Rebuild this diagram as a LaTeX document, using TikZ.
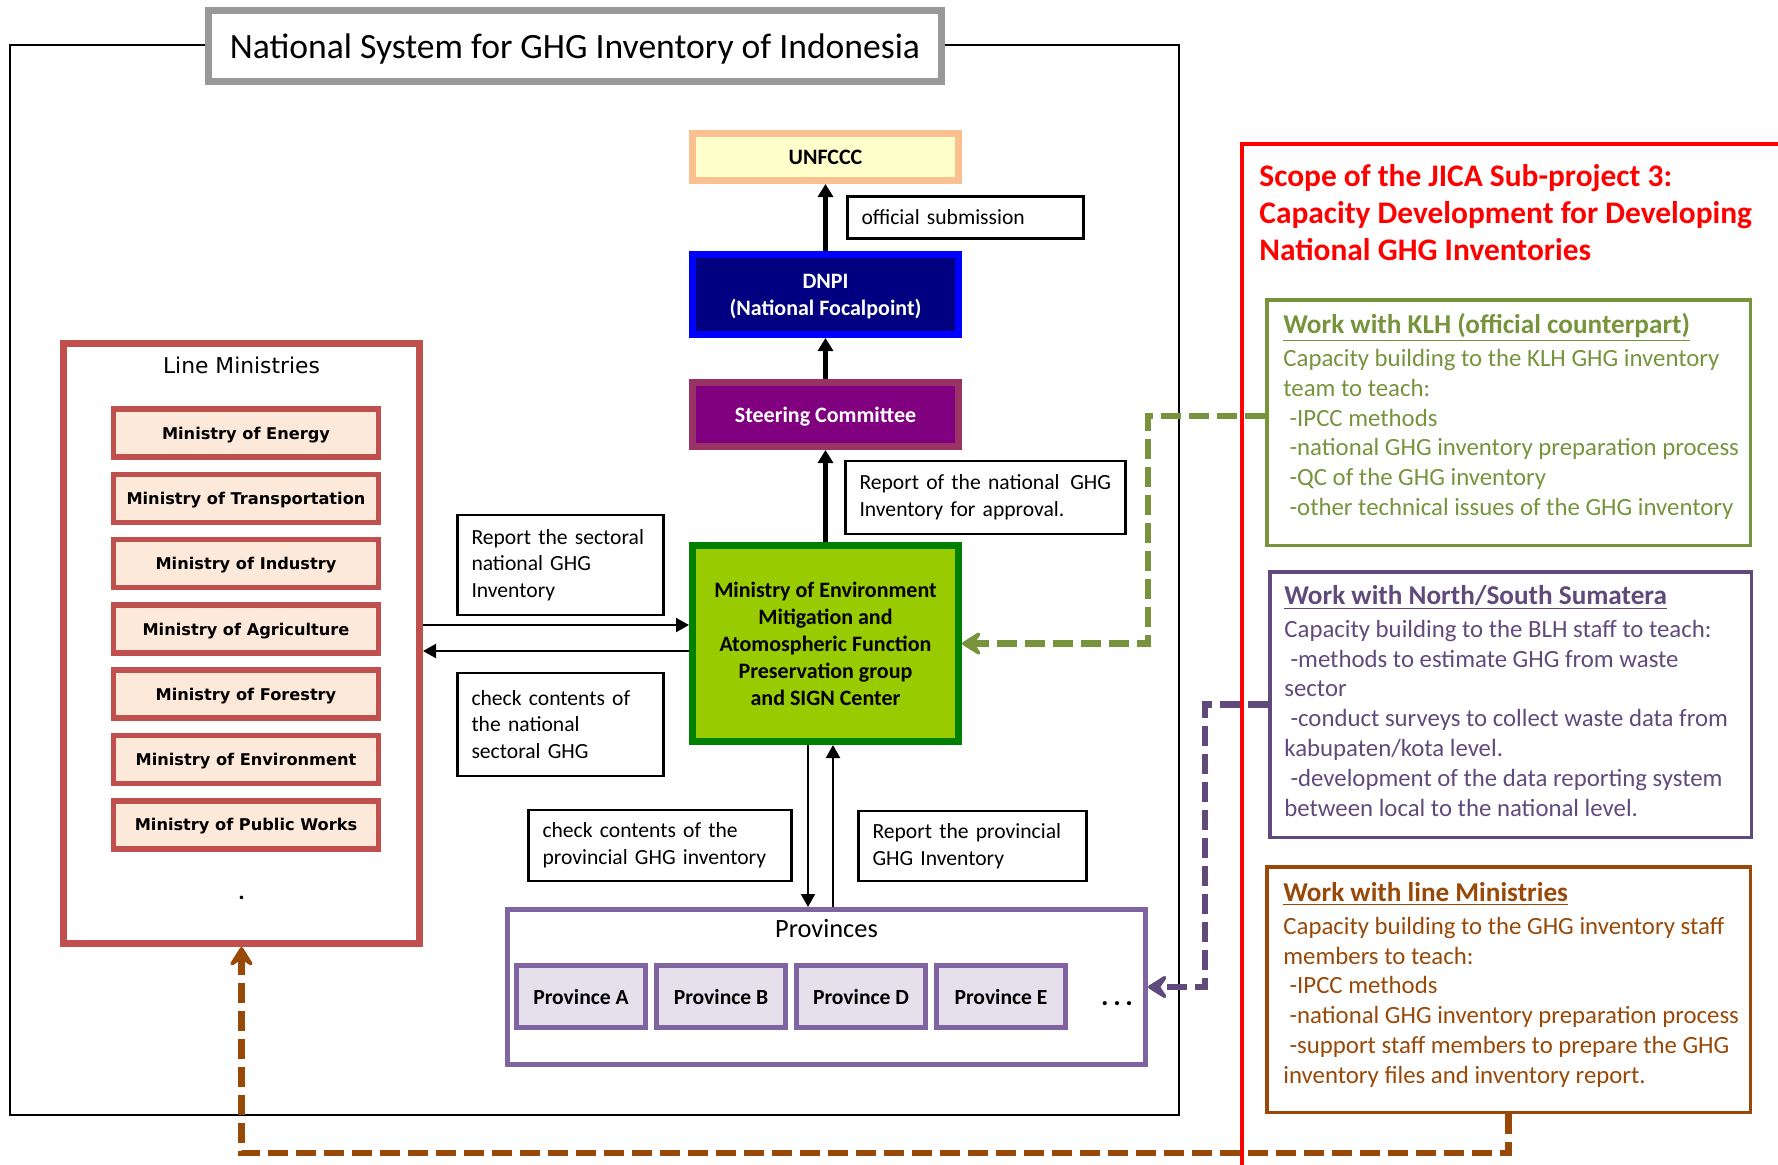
\documentclass[tikz,border=0pt]{standalone}
\usepackage{fontspec}
\setmainfont{Carlito}
\newfontfamily\verdfont{DejaVu Sans}
\usetikzlibrary{arrows.meta, positioning, calc}

\definecolor{titlegray}{HTML}{999999}
\definecolor{unfcccfill}{HTML}{FFFFCC}
\definecolor{unfcccline}{HTML}{FAC090}
\definecolor{dnpifill}{HTML}{000080}
\definecolor{dnpiline}{HTML}{0000FF}
\definecolor{steerfill}{HTML}{800080}
\definecolor{steerline}{HTML}{993366}
\definecolor{moefill}{HTML}{99CC00}
\definecolor{moeline}{HTML}{008000}
\definecolor{minfill}{HTML}{FDE9D9}
\definecolor{minline}{HTML}{C0504D}
\definecolor{provfill}{HTML}{E5E0EC}
\definecolor{provline}{HTML}{8064A2}
\definecolor{klhcol}{HTML}{77933C}
\definecolor{sumcol}{HTML}{604A7B}
\definecolor{brncol}{HTML}{984807}
\definecolor{scopered}{HTML}{FF0000}

\newcommand\headfont{\bfseries\fontsize{13.6}{14.9}\selectfont}

\begin{document}
\begin{tikzpicture}[
        x=0.5pt, y=-0.5pt,
        blk/.style={rectangle, draw, line width=3.5pt, minimum width=133pt, align=center, text depth=0pt, font=\bfseries\fontsize{11}{13.5}\selectfont},
        lbl/.style={rectangle, draw, line width=1.2pt, align=left, inner xsep=7pt, font=\fontsize{10.8}{13.3}\selectfont},
        mini/.style={rectangle, draw=minline, fill=minfill, line width=2.75pt, minimum width=132.5pt, minimum height=24pt, text depth=0pt, font=\verdfont\bfseries\fontsize{8.1}{9}\selectfont},
        prv/.style={rectangle, draw=provline, fill=provfill, line width=2.5pt, minimum width=64.5pt, minimum height=31pt, text depth=0pt, font=\bfseries\fontsize{10.8}{12}\selectfont},
        side/.style={rectangle, draw, line width=1.75pt, minimum width=241.75pt},
        sidetxt/.style={anchor=north west, inner sep=0pt, align=left, font=\fontsize{12.4}{14.9}\selectfont},
        dsh/.style={line width=3.3pt, dash pattern=on 10pt off 4pt, -{Stealth[length=12pt,width=15pt,inset=5pt,round]}},
        thk/.style={line width=2.2pt, -{Triangle[length=6.5pt,width=7.5pt]}},
        thn/.style={line width=1.1pt, -{Triangle[length=6.5pt,width=7pt]}}
    ]
    \useasboundingbox (0,0) rectangle (1778,1164);

    % Frame of the national system
    \draw[line width=1pt] (10,45) rectangle (1179,1115);
    \node[draw=titlegray, fill=white, line width=3.5pt, minimum width=366.5pt, minimum height=35.5pt, text depth=0pt, font=\fontsize{17.8}{20}\selectfont] (title) at (575,46) {National System for GHG Inventory of Indonesia};

    % Define the central column
    \node[blk, draw=unfcccline, fill=unfcccfill, minimum height=23.5pt] (unfccc) at (825.5,157) {UNFCCC};
    \node[blk, draw=dnpiline, fill=dnpifill, text=white, minimum height=40pt, below=33.5pt of unfccc] (dnpi) {DNPI\\(National Focalpoint)};
    \node[blk, draw=steerline, fill=steerfill, text=white, minimum height=32pt, below=20.5pt of dnpi] (steer) {Steering Committee};
    \node[blk, draw=moeline, fill=moefill, minimum height=98pt, below=46pt of steer] (moe) {Ministry of Environment\\Mitigation and\\Atomospheric Function\\Preservation group\\and SIGN Center};

    % Define the label boxes
    \node[lbl, text width=104pt, minimum height=21pt] (offsub) at (965.5,217.5) {official submission};
    \node[lbl, text width=126pt, minimum height=36.25pt] (rep) at (985.5,497.5) {\mbox{Report of the national\, GHG}\\Inventory for approval.};
    \node[lbl, text width=89pt, minimum height=49.75pt] (sect) at (560.5,565) {Report the sectoral\\national GHG\\Inventory};
    \node[lbl, text width=89pt, minimum height=51.25pt] (chknat) at (560.5,724.5) {check contents of\\the national\\sectoral GHG};
    \node[lbl, text width=117.5pt, minimum height=35.25pt] (chkprov) at (660,845.5) {check contents of the\\provincial GHG inventory};
    \node[lbl, text width=100pt, minimum height=34.75pt] (repprov) at (972.5,846) {Report the provincial\\GHG Inventory};

    % Define the line ministries
    \node[draw=minline, line width=3.5pt, minimum width=178pt, minimum height=300pt] (lm) at (241.5,643.5) {};
    \node[font=\verdfont\fontsize{10.9}{12}\selectfont] (lmtitle) at (241.5,365) {Line Ministries};
    \node[mini] (m1) at (246,433) {Ministry of Energy};
    \node[mini, below=5.9pt of m1] (m2) {Ministry of Transportation};
    \node[mini, below=5.9pt of m2] (m3) {Ministry of Industry};
    \node[mini, below=5.9pt of m3] (m4) {Ministry of Agriculture};
    \node[mini, below=5.9pt of m4] (m5) {Ministry of Forestry};
    \node[mini, below=5.9pt of m5] (m6) {Ministry of Environment};
    \node[mini, below=5.9pt of m6] (m7) {Ministry of Public Works};
    \node[font=\bfseries\fontsize{12}{12}\selectfont] (lmdots) at (241.5,898) {.};

    % Define the provinces
    \node[draw=provline, line width=2.5pt, minimum width=319pt, minimum height=77.5pt] (prov) at (826.5,987) {};
    \node[font=\fontsize{13.2}{14}\selectfont] (provtitle) at (826.5,928) {Provinces};
    \node[prv] (pa) at (581,996.5) {Province A};
    \node[prv, right=3pt of pa] (pb) {Province B};
    \node[prv, right=3pt of pb] (pd) {Province D};
    \node[prv, right=3pt of pd] (pe) {Province E};
    \node[font=\bfseries\fontsize{14}{14}\selectfont] (pdots) at (1117,1004) {.\,.\,.};

    % Scope of the JICA sub-project
    \draw[scopered, line width=1.75pt] (1242,1180) -- (1242,144) -- (1790,144);
    \node[anchor=north west, inner sep=0pt, align=left, text=scopered, font=\bfseries\fontsize{15.7}{18.5}\selectfont] (scope) at (1259,164) {Scope of the JICA Sub-project 3:\\Capacity Development for Developing\\National GHG Inventories};

    \node[side, draw=klhcol, minimum height=122.75pt] (klh) at (1508.5,422.5) {};
    \node[sidetxt, text=klhcol] (klhtxt) at (1283,313) {{\headfont\underline{Work with KLH (official counterpart)}}\\[1.5pt]Capacity building to the KLH GHG inventory\\team to teach:\\\hspace{0.25em}-IPCC methods\\\hspace{0.25em}-national GHG inventory preparation process\\\hspace{0.25em}-QC of the GHG inventory\\\hspace{0.25em}-other technical issues of the GHG inventory};

    \node[side, draw=sumcol, minimum width=240.75pt, minimum height=132.75pt] (sum) at (1510.5,704.5) {};
    \node[sidetxt, text=sumcol] (sumtxt) at (1284,585) {{\headfont\underline{Work with North/South Sumatera}}\\[1.5pt]Capacity building to the BLH staff to teach:\\\hspace{0.25em}-methods to estimate GHG from waste\\sector\\\hspace{0.25em}-conduct surveys to collect waste data from\\kabupaten/kota level.\\\hspace{0.25em}-development of the data reporting system\\between local to the national level.};

    \node[side, draw=brncol, minimum height=122.75pt] (brn) at (1508.5,989.5) {};
    \node[sidetxt, text=brncol] (brntxt) at (1283,882) {{\headfont\underline{Work with line Ministries}}\\[1.5pt]Capacity building to the GHG inventory staff\\members to teach:\\\hspace{0.25em}-IPCC methods\\\hspace{0.25em}-national GHG inventory preparation process\\\hspace{0.25em}-support staff members to prepare the GHG\\inventory files and inventory report.};

    % Draw the arrows
    \draw[thk] (dnpi) -- (unfccc);
    \draw[thk] (steer) -- (dnpi);
    \draw[thk] (moe) -- (steer);

    \draw[thn] ([yshift=9.25pt]lm.east) -- ([yshift=9.25pt]moe.west);
    \draw[thn] ([yshift=-3.75pt]moe.west) -- ([yshift=-3.75pt]lm.east);

    \draw[thn] ([xshift=-8.75pt]moe.south) -- ([xshift=-9.25pt]prov.north);
    \draw[thn] ([xshift=3.25pt]prov.north) -- ([xshift=3.75pt]moe.south);

    % Draw the dashed links
    \coordinate (gturn) at (1148,643.5);
    \coordinate (pturn) at (1205,987);
    \coordinate (bturn) at (241.5,1153);
    \draw[dsh, draw=klhcol] ([yshift=3.25pt]klh.west) -| (gturn) -- (moe.east);
    \draw[dsh, draw=sumcol] (sum.west) -| (pturn) -- (prov.east);
    \draw[dsh, draw=brncol] (brn.south) |- (bturn) -- (lm.south);
\end{tikzpicture}
\end{document}
